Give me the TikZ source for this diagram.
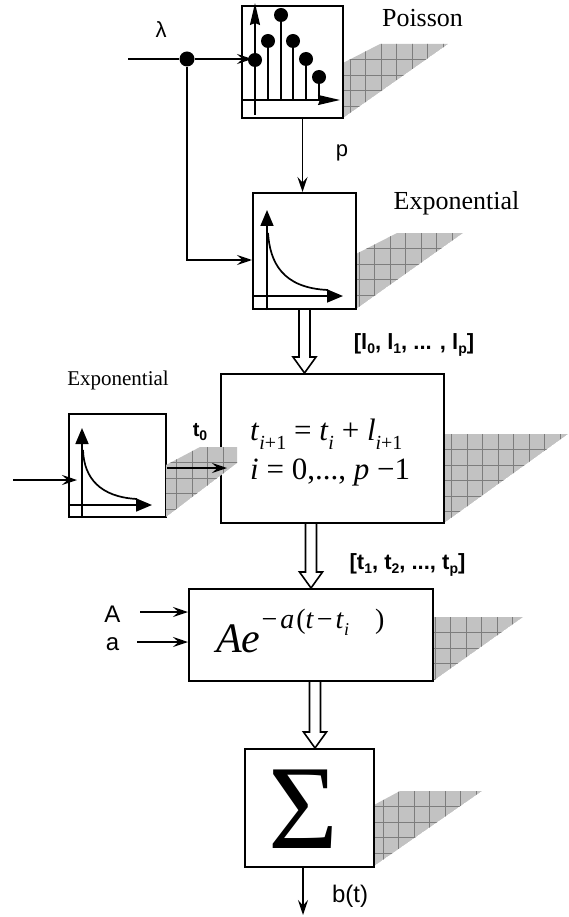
\documentclass[tikz,border=0pt]{standalone}
\usepackage{fontspec}
\setmainfont{Liberation Serif}
\newfontfamily\arial{Liberation Sans}
\usetikzlibrary{arrows.meta,calc}
\definecolor{shadowfill}{RGB}{194,194,194}
\definecolor{gridc}{RGB}{125,125,125}
\tikzset{
  box/.style={draw=black, line width=2pt, fill=white, rectangle, inner sep=0pt},
  conn/.style={line width=1.7pt, -{Stealth[length=15pt,width=10pt,inset=5.5pt]}},
  plainline/.style={line width=1.7pt},
  paxis/.style={line width=1.7pt, -{Stealth[length=22pt,width=10pt,inset=2pt]}},
  eaxis/.style={line width=1.7pt, -{Triangle[length=16pt,width=13pt]}},
  stem/.style={line width=1.6pt},
  gridline/.style={draw=gridc, line width=0.5pt},
  hollow/.style={draw=black, line width=1.6pt, fill=white},
  lbl/.style={inner sep=0pt},
}
\newcommand\msub[1]{\raisebox{-0.3em}{\fontsize{20}{20}\selectfont #1}}
\newcommand\esub[1]{\raisebox{-0.25em}{\fontsize{18}{18}\selectfont #1}}
\newcommand\lsub[1]{\raisebox{-0.22em}{\fontsize{14}{14}\selectfont #1}}
\newcommand\gridshadow[3]{%
  \begin{scope}
    \clip #1;
    \fill[shadowfill] #1;
    \foreach \k in {0,...,9}{
      \draw[gridline] ({#2+\k*15.5},{#3-2}) -- ++(0,130);
      \draw[gridline] ({#2-16},{#3+15.5+\k*15.5}) -- ++(200,0);
    }
  \end{scope}}
\newcommand\hollowarrow[2]{%
  \coordinate (hbtop) at (#1);
  \coordinate (hbbot) at (#2);
  \draw[hollow] ($(hbtop)+(-5.5,0)$) -- ($(hbbot)+(-5.5,-16)$) -- ($(hbbot)+(-11.5,-16)$)
     -- (hbbot) -- ($(hbbot)+(11.5,-16)$) -- ($(hbbot)+(5.5,-16)$) -- ($(hbtop)+(5.5,0)$);}

\begin{document}
\begin{tikzpicture}[x=1pt,y=-1pt]
\useasboundingbox (0,0) rectangle (568,917);

% shadows behind boxes
\gridshadow{(343,63) -- (380,44) -- (448,44) -- (343,118) -- cycle}{350}{44}
\gridshadow{(356,254) -- (397,233) -- (463,233) -- (356,309) -- cycle}{359}{233}
\gridshadow{(444,434) -- (568,434) -- (444,523) -- cycle}{451.7}{434}
\gridshadow{(433,617) -- (523,617) -- (433,681) -- cycle}{435}{617}
\gridshadow{(374,805) -- (400,791) -- (482,791) -- (374,866) -- cycle}{383}{791}

% boxes
\node[box, minimum width=101pt, minimum height=112pt] (poisson) at (292.5,62) {};
\node[box, minimum width=103pt, minimum height=116pt] (expo) at (304.5,251) {};
\node[box, minimum width=97pt, minimum height=103pt] (expo2) at (117.5,465.5) {};
\node[box, minimum width=223pt, minimum height=149pt] (main) at (332.5,448.5) {};
\node[box, minimum width=244pt, minimum height=92pt] (ae) at (311,635) {};
\node[box, minimum width=129pt, minimum height=118pt] (sigma) at (309.5,808) {};

% shadow of the small exponential box, drawn over the main box
\gridshadow{(166,465) -- (200,447) -- (237,447) -- (237,463) -- (166,517) -- cycle}{176.7}{447}

% Poisson plot
\draw[paxis] (255,115) -- (255,3);
\draw[paxis] (242,100) -- (340,100);
\foreach \sx/\sy in {255/60,268/41,281/15,293/41,306/59,319/77}{
  \draw[stem] (\sx,100) -- (\sx,\sy);
  \fill (\sx,\sy) circle (7);
}

% Exponential plot
\draw[eaxis] (267,310) -- (267,210);
\draw[eaxis] (253,296) -- (343,296);
\draw[plainline] (268,233) .. controls (270,262) and (282,288) .. (328,290);

% small exponential plot
\draw[eaxis] (82,518) -- (82,428);
\draw[eaxis] (69,505) -- (152,505);
\draw[plainline] (83,450) .. controls (84,478) and (100,497) .. (137,499);

% connectors
\coordinate (lamin) at (128,59);
\coordinate (poisin) at (252,59);
\node[circle, fill=black, inner sep=0pt, minimum size=15pt] (junc) at (187,59) {};
\draw[plainline] (lamin) -- (junc);
\draw[conn] (junc) -- (poisin);
\coordinate (expoin) at ($(expo.west)+(0,9)$);
\draw[conn] (junc) |- (expoin);
\coordinate (pe) at ($(expo.north)+(-2,0)$);
\draw[conn] (pe |- poisson.south) -- (pe);

\coordinate (e2in) at (13,480);
\coordinate (e2tip) at (77,480);
\draw[conn] (e2in) -- (e2tip);
\coordinate (t0tip) at (227,468);
\draw[conn] (expo2.east |- t0tip) -- (t0tip);

\coordinate (Ain) at (140,612);
\coordinate (ain) at (137,642);
\draw[conn] (Ain) -- (ae.west |- Ain);
\draw[conn] (ain) -- (ae.west |- ain);

\coordinate (bout) at (303,915);
\draw[conn] (bout |- sigma.south) -- (bout);

% hollow arrows
\hollowarrow{expo.south}{expo.south |- main.north}
\hollowarrow{ae.north |- main.south}{ae.north}
\coordinate (a2s) at ($(ae.south)+(4,0)$);
\hollowarrow{a2s}{a2s |- sigma.north}

% box contents
\node[lbl, anchor=base west, font=\fontsize{31}{31}\selectfont] (mt1) at (250,440)
  {\textit{t}\msub{\textit{i}+1} = \textit{t}\msub{\textit{i}} + \textit{l}\msub{\textit{i}+1}};
\node[lbl, anchor=base west, font=\fontsize{31}{31}\selectfont] (mt2) at (250,479)
  {\textit{i} = 0,..., \textit{p} −1};
\node[lbl, anchor=base west, font=\fontsize{42}{42}\selectfont] (aetext) at (216,652)
  {\textit{Ae}\raisebox{0.56em}{\fontsize{28}{28}\selectfont \kern1pt−\kern3pt\textit{a}\kern2pt(\textit{t}\kern3pt−\kern3pt\textit{t}\esub{\textit{i}}\kern26pt)}};
\node[lbl, font=\fontsize{120}{120}\selectfont] (sigmatext) at (303,809) {Σ};

% labels
\node[lbl, anchor=base, font=\fontsize{26}{26}\selectfont] (lpois) at (422.5,27) {Poisson};
\node[lbl, anchor=base, font=\fontsize{26}{26}\selectfont] (lexp) at (456.5,210) {Exponential};
\node[lbl, anchor=base, font=\fontsize{21}{21}\selectfont] (lexp2) at (118,385) {Exponential};
\node[lbl, font={\arial\fontsize{22}{22}\selectfont}] (llam) at (161,30) {λ};
\node[lbl, anchor=base, font={\arial\fontsize{22}{22}\selectfont}] (lp) at (342,157) {p};
\node[lbl, anchor=base, font={\arial\bfseries\fontsize{22}{22}\selectfont}] (ll) at (414,349)
  {[l\lsub{0}, l\lsub{1}, ... , l\lsub{p}]};
\node[lbl, anchor=base, font={\arial\bfseries\fontsize{20}{20}\selectfont}] (lt0) at (200,436) {t\lsub{0}};
\node[lbl, anchor=base, font={\arial\bfseries\fontsize{22}{22}\selectfont}] (lt) at (407.5,569)
  {[t\lsub{1}, t\lsub{2}, ..., t\lsub{p}]};
\node[lbl, anchor=base, font={\arial\fontsize{24}{24}\selectfont}] (lA) at (112.5,622) {A};
\node[lbl, anchor=base, font={\arial\fontsize{24}{24}\selectfont}] (la) at (112.5,650) {a};
\node[lbl, anchor=base, font={\arial\fontsize{24}{24}\selectfont}] (lb) at (350,902) {b(t)};
\end{tikzpicture}
\end{document}
